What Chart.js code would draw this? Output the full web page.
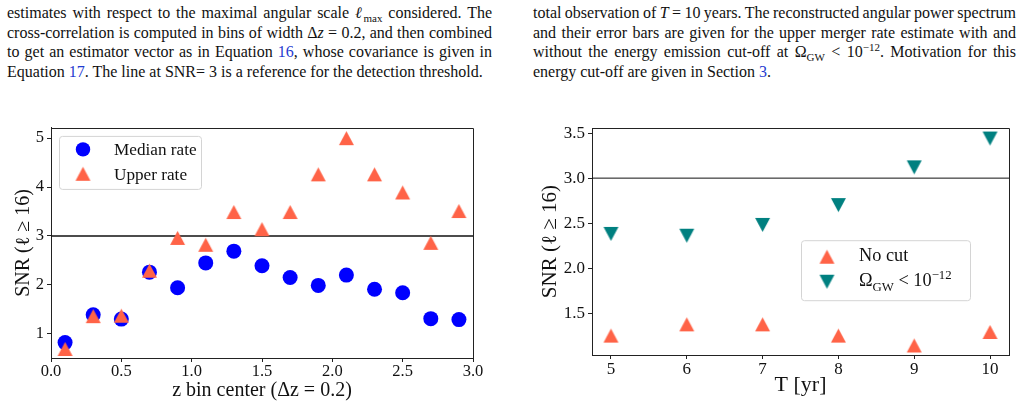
<!DOCTYPE html>
<html>
<head>
<meta charset="utf-8">
<script src="https://cdn.jsdelivr.net/npm/chart.js@4.4.1/dist/chart.umd.min.js"></script>
<style>
  body { margin:0; width:1025px; height:407px; background:#fff; position:relative; overflow:hidden;
         font-family:'Liberation Serif','Times New Roman',serif; color:#111; }
  .para { position:absolute; top:3px; font-size:16px; line-height:19.67px; }
  .para div { text-align:justify; text-align-last:justify; }
  .para div.last { text-align-last:left; }
  .para div.tight { word-spacing:-2px; }
  .para a { color:#1f3bd1; text-decoration:none; }
  .para sub, .para sup { font-size:11px; line-height:0; }
  canvas { position:absolute; top:115px; }
</style>
</head>
<body>
<div class="para" style="left:7px;width:485px">
  <div>estimates with respect to the maximal angular scale <i>ℓ</i><sub>max</sub> considered. The</div>
  <div>cross-correlation is computed in bins of width Δ<i>z</i> = 0.2, and then combined</div>
  <div>to get an estimator vector as in Equation <a>16</a>, whose covariance is given in</div>
  <div class="last">Equation <a>17</a>. The line at SNR= 3 is a reference for the detection threshold.</div>
</div>
<div class="para" style="left:533px;width:483px">
  <div class="tight">total observation of <i>T</i> = 10 years. The reconstructed angular power spectrum</div>
  <div>and their error bars are given for the upper merger rate estimate with and</div>
  <div>without the energy emission cut-off at Ω<sub>GW</sub> &lt; 10<sup>−12</sup>. Motivation for this</div>
  <div class="last">energy cut-off are given in Section <a>3</a>.</div>
</div>

<canvas id="snrRedshift" width="500" height="292" style="left:0"></canvas>
<canvas id="snrTime" width="505" height="292" style="left:520px"></canvas>

<script>
// left panel: SNR per redshift bin
const zBins = [0.1, 0.3, 0.5, 0.7, 0.9, 1.1, 1.3, 1.5, 1.7, 1.9, 2.1, 2.3, 2.5, 2.7, 2.9];
const medianSNR = [0.82, 1.39, 1.30, 2.26, 1.94, 2.45, 2.69, 2.39, 2.15, 1.99, 2.20, 1.91, 1.84, 1.31, 1.29];
const upperSNR = [0.69, 1.36, 1.37, 2.29, 2.96, 2.82, 3.49, 3.14, 3.49, 4.26, 5.00, 4.26, 3.89, 2.86, 3.51];
const zTicks = [0, 0.5, 1.0, 1.5, 2.0, 2.5, 3.0];
const zSnrTicks = [1, 2, 3, 4, 5];

// right panel: SNR vs observation time
const years = [5, 6, 7, 8, 9, 10];
const noCutSNR = [1.25, 1.375, 1.375, 1.25, 1.14, 1.29];
const cutSNR = [2.38, 2.36, 2.48, 2.70, 3.12, 3.44];
const yearTicks = [5, 6, 7, 8, 9, 10];
const yearSnrTicks = [1.5, 2.0, 2.5, 3.0, 3.5];

const threshold = 3;

const BLUE = '#0000ff', TOMATO = '#ff6347', TEAL = '#008080';
const FONT = "'Liberation Serif', 'Times New Roman', serif";
const INK = '#222';

// matplotlib style triangle (centred on its bounding box)
function triangle(color, w, h, down) {
  const c = document.createElement('canvas');
  c.width = w + 2; c.height = h + 2;
  const g = c.getContext('2d');
  g.fillStyle = color;
  g.beginPath();
  if (down) { g.moveTo(1, 1); g.lineTo(w + 1, 1); g.lineTo(w / 2 + 1, h + 1); }
  else { g.moveTo(w / 2 + 1, 1); g.lineTo(w + 1, h + 1); g.lineTo(1, h + 1); }
  g.closePath();
  g.fill();
  return c;
}

const upTriL = triangle(TOMATO, 15, 14, false);
const upTriR = triangle(TOMATO, 15, 14, false);
const downTriR = triangle(TEAL, 15, 14, true);

function pts(xs, ys) { return xs.map((x, i) => ({ x: x, y: ys[i] })); }

function drawSegments(ctx, segs, x, y, size) {
  let cx = x;
  ctx.textBaseline = 'alphabetic';
  ctx.textAlign = 'left';
  ctx.fillStyle = '#111';
  segs.forEach(s => {
    const fs = (s.sub || s.sup) ? size * 0.7 : size;
    ctx.font = (s.it ? 'italic ' : '') + fs + 'px ' + FONT;
    const dy = s.sub ? size * 0.25 : s.sup ? -size * 0.42 : 0;
    ctx.fillText(s.t, cx, y + dy);
    cx += ctx.measureText(s.t).width;
  });
}

// legend box drawn inside the axes
function boxLegend(cfg) {
  return {
    id: 'boxLegend',
    afterDraw(chart) {
      const { ctx, chartArea } = chart;
      const x0 = chartArea.left + cfg.left, y0 = chartArea.top + cfg.top;
      ctx.save();
      ctx.beginPath();
      ctx.roundRect(x0 + 0.5, y0 + 0.5, cfg.width, cfg.height, 3);
      ctx.fillStyle = 'rgba(255,255,255,0.8)';
      ctx.fill();
      ctx.strokeStyle = '#d4d4d4';
      ctx.lineWidth = 1;
      ctx.stroke();
      cfg.items.forEach((it, i) => {
        const cy = y0 + cfg.first + i * cfg.step;
        const mx = x0 + cfg.markerX;
        if (it.marker === 'circle') {
          ctx.beginPath();
          ctx.arc(mx, cy, 7.2, 0, Math.PI * 2);
          ctx.fillStyle = it.color;
          ctx.fill();
        } else {
          ctx.drawImage(it.marker, mx - it.marker.width / 2, cy - it.marker.height / 2);
        }
        drawSegments(ctx, it.label, x0 + cfg.textX, cy + cfg.size * cfg.shift, cfg.size);
      });
      ctx.restore();
    }
  };
}

// top and right spines
const frame = {
  id: 'frame',
  beforeDatasetsDraw(chart) {
    const { ctx, chartArea: a } = chart;
    ctx.save();
    ctx.strokeStyle = INK;
    ctx.lineWidth = 1;
    ctx.beginPath();
    ctx.moveTo(Math.round(a.left) + 0.5, Math.round(a.top) + 0.5);
    ctx.lineTo(Math.round(a.right) + 0.5, Math.round(a.top) + 0.5);
    ctx.lineTo(Math.round(a.right) + 0.5, Math.round(a.bottom) + 0.5);
    ctx.stroke();
    ctx.restore();
  }
};

function axis(opts) {
  return {
    type: 'linear',
    position: opts.position,
    min: opts.min,
    max: opts.max,
    afterBuildTicks: s => { s.ticks = opts.ticks.map(v => ({ value: v })); },
    afterFit: s => { if (opts.position === 'left') s.width = opts.size; else s.height = opts.size; },
    grid: { display: true, drawOnChartArea: false, drawTicks: true, tickLength: 4, tickColor: INK },
    border: { display: true, color: INK, width: 1 },
    ticks: {
      color: '#111', padding: opts.tickPad,
      font: { family: FONT, size: opts.tickSize },
      callback: opts.fmt
    },
    title: {
      display: true, text: opts.title, color: '#111',
      font: { family: FONT, size: opts.titleSize },
      padding: opts.titlePad
    }
  };
}

new Chart(document.getElementById('snrRedshift'), {
  type: 'scatter',
  data: {
    datasets: [
      { label: 'Upper rate', data: pts(zBins, upperSNR), pointStyle: upTriL, order: 0 },
      { label: 'Median rate', data: pts(zBins, medianSNR), pointStyle: 'circle', pointRadius: 7.5,
        backgroundColor: BLUE, borderWidth: 0, order: 1 },
      { label: 'threshold', data: [{ x: 0, y: threshold }, { x: 3, y: threshold }], showLine: true,
        pointRadius: 0, borderColor: '#111', borderWidth: 1.5, order: 2 }
    ]
  },
  options: {
    responsive: false,
    animation: false,
    events: [],
    layout: { padding: { top: 12, right: 27, left: 0, bottom: 0 } },
    plugins: { legend: { display: false }, tooltip: { enabled: false } },
    scales: {
      x: axis({ position: 'bottom', min: 0, max: 3, ticks: zTicks, size: 49, tickSize: 16.5, tickPad: 0,
                fmt: v => v.toFixed(1), title: 'z bin center (Δz = 0.2)', titleSize: 20,
                titlePad: { top: 0, bottom: 4 } }),
      y: axis({ position: 'left', min: 0.505, max: 5.21, ticks: zSnrTicks, size: 51, tickSize: 16.5, tickPad: 3,
                fmt: v => String(v), title: 'SNR (ℓ ≥ 16)', titleSize: 20,
                titlePad: { top: 12, bottom: 0 } })
    }
  },
  plugins: [frame, boxLegend({
    left: 8, top: 8, width: 142, height: 53, markerX: 24, textX: 55, first: 13.5, step: 24.4,
    size: 17.2, shift: 0.34,
    items: [
      { marker: 'circle', color: BLUE, label: [{ t: 'Median rate' }] },
      { marker: upTriL, label: [{ t: 'Upper rate' }] }
    ]
  })]
});

new Chart(document.getElementById('snrTime'), {
  type: 'scatter',
  data: {
    datasets: [
      { label: 'No cut', data: pts(years, noCutSNR), pointStyle: upTriR, order: 0 },
      { label: 'cut', data: pts(years, cutSNR), pointStyle: downTriR, order: 1 },
      { label: 'threshold', data: [{ x: 4.75, y: threshold }, { x: 10.25, y: threshold }], showLine: true,
        pointRadius: 0, borderColor: '#111', borderWidth: 1, order: 2 }
    ]
  },
  options: {
    responsive: false,
    animation: false,
    events: [],
    layout: { padding: { top: 12, right: 16, left: 0, bottom: 0 } },
    plugins: { legend: { display: false }, tooltip: { enabled: false } },
    scales: {
      x: axis({ position: 'bottom', min: 4.75, max: 10.25, ticks: yearTicks, size: 52, tickSize: 17, tickPad: 0,
                fmt: v => String(v), title: 'T [yr]', titleSize: 22,
                titlePad: { top: 0, bottom: 9 } }),
      y: axis({ position: 'left', min: 1.034, max: 3.555, ticks: yearSnrTicks, size: 72, tickSize: 17, tickPad: 3,
                fmt: v => v.toFixed(1), title: 'SNR (ℓ ≥ 16)', titleSize: 21,
                titlePad: { top: 18, bottom: 0 } })
    }
  },
  plugins: [frame, boxLegend({
    left: 209, top: 112, width: 169, height: 60, markerX: 26, textX: 58, first: 16.5, step: 25,
    size: 18.3, shift: 0.26,
    items: [
      { marker: upTriR, label: [{ t: 'No cut' }] },
      { marker: downTriR, label: [{ t: 'Ω' }, { t: 'GW', sub: true }, { t: ' < 10' }, { t: '−12', sup: true }] }
    ]
  })]
});
</script>
</body>
</html>
